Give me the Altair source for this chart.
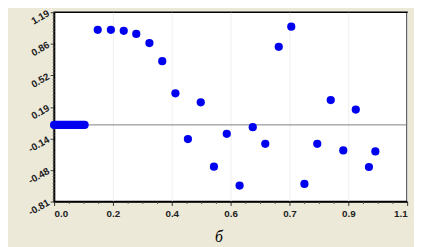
import altair as alt
import pandas as pd

# ---- data ----
cluster_x = [0.000, 0.005, 0.010, 0.015, 0.020, 0.025, 0.030, 0.035, 0.040, 0.045,
             0.050, 0.055, 0.060, 0.065, 0.070, 0.075, 0.080, 0.085, 0.090, 0.095]
cluster_y = [0.0, 0.0, 0.0, 0.0, 0.0, 0.0, 0.0, 0.0, 0.0, 0.0,
             0.0, 0.0, 0.0, 0.0, 0.0, 0.0, 0.0, 0.0, 0.0, 0.0]
scatter_x = [0.136, 0.177, 0.217, 0.256, 0.297, 0.337, 0.378, 0.417, 0.457, 0.498,
             0.538, 0.578, 0.619, 0.658, 0.700, 0.739, 0.780, 0.820, 0.862, 0.901,
             0.940, 0.981, 1.001]
scatter_y = [1.004, 1.004, 0.994, 0.961, 0.865, 0.673, 0.334, -0.150, 0.238, -0.442,
             -0.094, -0.641, -0.024, -0.200, 0.825, 1.038, -0.624, -0.200, 0.262, -0.270,
             0.162, -0.445, -0.280]
zero_line = [0.0]

x_ticks = [0.0, 0.18333, 0.36667, 0.55, 0.73333, 0.91667, 1.1]
x_labels = ["0.0", "0.2", "0.4", "0.6", "0.7", "0.9", "1.1"]
y_ticks = [-0.81, -0.47667, -0.14333, 0.19, 0.52333, 0.85667, 1.19]
y_labels = ["-0.81", "-0.48", "-0.14", "0.19", "0.52", "0.86", "1.19"]
title_text = "б"

# minor tick positions (axis decoration)
x_minor = [x_ticks[i] + (x_ticks[i + 1] - x_ticks[i]) * k / 4
           for i in range(len(x_ticks) - 1) for k in range(1, 4)]
y_minor = [y_ticks[i] + (y_ticks[i + 1] - y_ticks[i]) * k / 10
           for i in range(len(y_ticks) - 1) for k in range(1, 10)]

pts = pd.DataFrame({"x": cluster_x + scatter_x, "y": cluster_y + scatter_y})

W, H = 360, 193
BEIGE = "#ECE9D8"
BLUE = "#0000F0"
LABEL_FONT = "Liberation Sans"

xscale = alt.Scale(domain=[0, 1.1], nice=False, zero=False)
yscale = alt.Scale(domain=[-0.81, 1.19], nice=False, zero=False)


def lab_expr(vals, labs):
    return "[" + ",".join("'%s'" % s for s in labs) + "][indexof([" + \
        ",".join(repr(v) for v in vals) + "], datum.value)]"


x_axis = alt.Axis(values=x_ticks, labelExpr=lab_expr(x_ticks, x_labels), orient="bottom",
                  title=None, grid=True, gridColor="#F0F0F0", domainColor="black",
                  domainWidth=1.5, tickColor="#333333", tickSize=4, labelFont=LABEL_FONT,
                  labelFontSize=10, labelFontWeight="bold", labelColor="#222222",
                  labelPadding=3)
y_axis = alt.Axis(values=y_ticks, labelExpr=lab_expr(y_ticks, y_labels), orient="left",
                  title=None, grid=False, domainColor="black", domainWidth=1.5,
                  tickColor="#333333", tickSize=4, labelFont=LABEL_FONT, labelFontSize=10,
                  labelFontWeight="bold", labelColor="#222222", labelAngle=330,
                  labelAlign="right", labelBaseline="middle", labelPadding=2)
x_minor_axis = alt.Axis(values=x_minor, labels=False, orient="bottom", title=None,
                        grid=False, domain=False, tickColor="#555555", tickSize=2)
y_minor_axis = alt.Axis(values=y_minor, labels=False, orient="left", title=None,
                        grid=False, domain=False, tickColor="#555555", tickSize=2)

zero = alt.Chart(pd.DataFrame({"y": zero_line})).mark_rule(color="#808080", strokeWidth=1).encode(
    y=alt.Y("y:Q", scale=yscale, axis=None))

points = alt.Chart(pts).mark_circle(size=70, color=BLUE, opacity=1).encode(
    x=alt.X("x:Q", scale=xscale, axis=x_axis),
    y=alt.Y("y:Q", scale=yscale, axis=y_axis))

minor = alt.Chart(pts).mark_circle(opacity=0).encode(
    x=alt.X("x:Q", scale=xscale, axis=x_minor_axis),
    y=alt.Y("y:Q", scale=yscale, axis=y_minor_axis))

chart = alt.layer(zero, points, minor).resolve_axis(
    x="independent", y="independent"
).properties(
    width=W, height=H,
    background=BEIGE,
    autosize=alt.AutoSizeParams(type="none"),
    padding={"left": 47, "top": 2, "right": 7, "bottom": 44},
    title=alt.TitleParams(title_text, orient="bottom", anchor="middle", font="Liberation Serif",
                          fontStyle="italic", fontWeight="normal", fontSize=16,
                          color="black", offset=11, dx=-12),
).configure_view(fill="white", stroke="black", strokeWidth=1.5)

chart.save("out.html", embed_options={"renderer": "svg", "actions": False})
